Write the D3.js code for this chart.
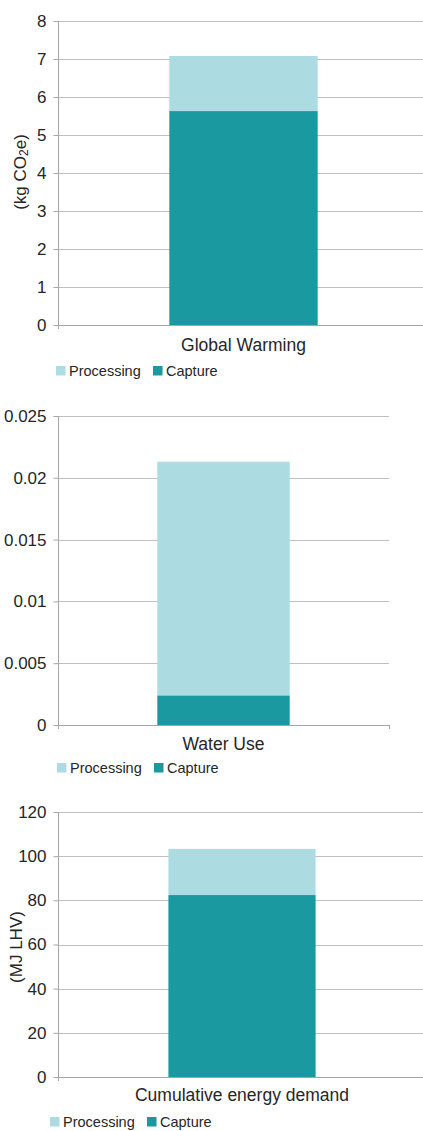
<!DOCTYPE html>
<html>
<head>
<meta charset="utf-8">
<script src="https://cdn.jsdelivr.net/npm/d3@7"></script>
<style>
  html, body { margin: 0; padding: 0; background: #fff; }
  svg { display: block; font-family: "Liberation Sans", Arial, sans-serif; }
</style>
</head>
<body>
<svg id="chart" width="423" height="1131"></svg>
<script>
// Stacked single-bar charts: impact per category, split by stage
const seriesNames = ["Capture", "Processing"];
const seriesColors = ["#1a99a1", "#acdce1"];

const categories = ["Global Warming", "Water Use", "Cumulative energy demand"];
const captureValues = [5.63, 0.0024, 82.4];
const processingValues = [1.45, 0.0189, 20.9];

const yMax = [8, 0.025, 120];
const yStep = [1, 0.005, 20];
const yTitles = ["(kg CO₂e)", "", "(MJ LHV)"];

// Panel frames (plot area) and legend/label placement
const panels = [
  { left: 58, right: 429, top: 21, bottom: 325, labelY: 351, legendY: 366, legendX: 56, capX: 153, titleX: 20, titleY: 172 },
  { left: 58, right: 389, top: 416, bottom: 725, labelY: 750, legendY: 763, legendX: 57, capX: 154, titleX: 16, titleY: 570 },
  { left: 58, right: 426, top: 812, bottom: 1077, labelY: 1101, legendY: 1117, legendX: 50, capX: 147, titleX: 16, titleY: 947 }
];

const svg = d3.select("#chart");
const gridColor = "#c0c0c0";
const axisColor = "#a6a6a6";
const textColor = "#262626";

panels.forEach((p, i) => {
  const g = svg.append("g");
  const x = d3.scaleBand().domain([categories[i]]).range([p.left, p.right])
    .paddingInner(0).paddingOuter(0.75);
  const y = d3.scaleLinear().domain([0, yMax[i]]).range([p.bottom, p.top]);
  const ticks = d3.range(0, yMax[i] + yStep[i] / 2, yStep[i]).map(v => +v.toFixed(6));

  // horizontal gridlines
  g.selectAll("line.grid").data(ticks.filter(t => t > 0)).join("line")
    .attr("x1", p.left).attr("x2", p.right)
    .attr("y1", d => Math.round(y(d)) + 0.5).attr("y2", d => Math.round(y(d)) + 0.5)
    .attr("stroke", gridColor).attr("stroke-width", 1);

  // stacked bars
  const rows = [{ cat: categories[i], Capture: captureValues[i], Processing: processingValues[i] }];
  const stacked = d3.stack().keys(seriesNames)(rows);
  g.selectAll("g.layer").data(stacked).join("g")
    .attr("fill", (d, k) => seriesColors[k])
    .selectAll("rect").data(d => d).join("rect")
    .attr("x", d => x(d.data.cat))
    .attr("width", x.bandwidth())
    .attr("y", d => y(d[1]))
    .attr("height", d => y(d[0]) - y(d[1]));

  // y axis
  const yAxis = d3.axisLeft(y).tickValues(ticks).tickSize(5).tickPadding(7)
    .tickFormat(d => d3.format("~g")(d));
  const ya = g.append("g").attr("transform", `translate(${p.left + 0.5},0)`).call(yAxis);
  ya.select(".domain").attr("stroke", axisColor)
    .attr("d", `M0,${p.top}V${p.bottom + 4}`);
  ya.selectAll(".tick line").attr("stroke", axisColor);
  ya.selectAll(".tick text").attr("fill", textColor)
    .style("font-size", "17px").style("font-family", "'Liberation Sans', Arial, sans-serif");

  // x axis baseline with end ticks
  const xa = g.append("g");
  xa.append("line").attr("x1", p.left - 4).attr("x2", p.right)
    .attr("y1", p.bottom + 0.5).attr("y2", p.bottom + 0.5)
    .attr("stroke", axisColor);
  [p.left, p.right].forEach(xx => {
    xa.append("line").attr("x1", xx + 0.5).attr("x2", xx + 0.5)
      .attr("y1", p.bottom).attr("y2", p.bottom + 4).attr("stroke", axisColor);
  });

  // category label
  g.append("text")
    .attr("x", x(categories[i]) + x.bandwidth() / 2)
    .attr("y", p.labelY)
    .attr("text-anchor", "middle")
    .attr("fill", textColor)
    .style("font-size", "17.5px")
    .text(categories[i]);

  // y axis title
  if (yTitles[i]) {
    const t = g.append("text")
      .attr("transform", `translate(${p.titleX},${p.titleY}) rotate(-90)`)
      .attr("text-anchor", "middle")
      .attr("dominant-baseline", "central")
      .attr("fill", textColor)
      .style("font-size", "17px");
    if (yTitles[i].includes("₂")) {
      t.append("tspan").text("(kg CO");
      t.append("tspan").attr("dy", 4).style("font-size", "12px").text("2");
      t.append("tspan").attr("dy", -4).text("e)");
    } else {
      t.text(yTitles[i]);
    }
  }

  // legend: Processing first, then Capture
  const legendItems = [
    { name: "Processing", color: seriesColors[1], x: p.legendX },
    { name: "Capture", color: seriesColors[0], x: p.capX }
  ];
  const lg = g.append("g");
  legendItems.forEach(it => {
    lg.append("rect").attr("x", it.x).attr("y", p.legendY)
      .attr("width", 9.5).attr("height", 9.5).attr("fill", it.color);
    lg.append("text").attr("x", it.x + 13).attr("y", p.legendY + 10)
      .attr("fill", textColor).style("font-size", "14.5px").text(it.name);
  });
});
</script>
</body>
</html>
